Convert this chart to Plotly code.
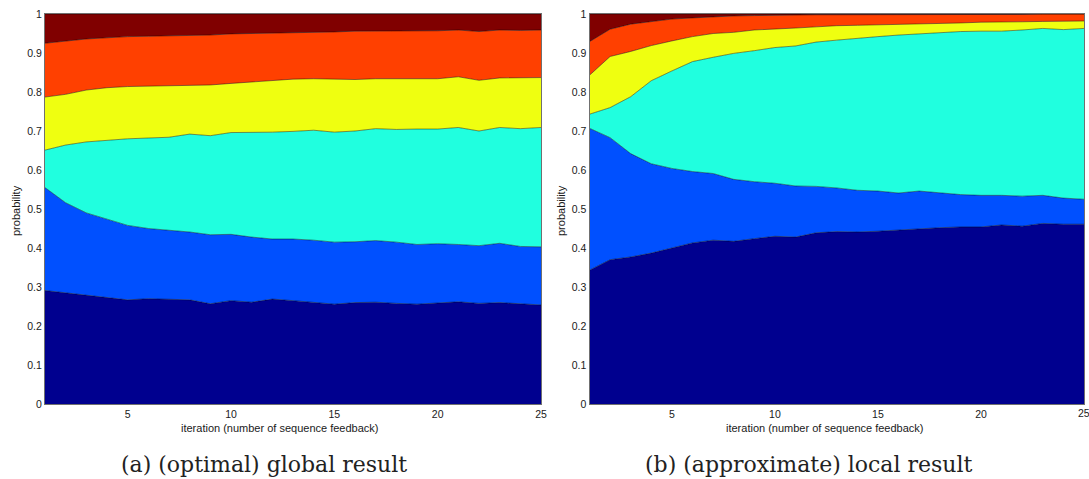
import plotly.graph_objects as go

iterations = list(range(1, 26))

# Left panel (a): cumulative boundaries (top of each stacked layer)
a_layer1 = [0.291, 0.285, 0.278, 0.272, 0.267, 0.270, 0.269, 0.267, 0.257, 0.265, 0.261, 0.269, 0.265,
            0.260, 0.256, 0.260, 0.261, 0.258, 0.256, 0.259, 0.262, 0.258, 0.260, 0.257, 0.254]
a_layer2 = [0.555, 0.516, 0.490, 0.473, 0.458, 0.450, 0.446, 0.441, 0.434, 0.435, 0.428, 0.423, 0.423,
            0.420, 0.415, 0.416, 0.419, 0.415, 0.409, 0.411, 0.409, 0.406, 0.412, 0.404, 0.403]
a_layer3 = [0.651, 0.664, 0.672, 0.676, 0.680, 0.682, 0.684, 0.692, 0.688, 0.696, 0.696, 0.697, 0.699,
            0.702, 0.697, 0.700, 0.706, 0.704, 0.705, 0.705, 0.709, 0.700, 0.709, 0.706, 0.709]
a_layer4 = [0.787, 0.794, 0.805, 0.811, 0.814, 0.815, 0.817, 0.818, 0.818, 0.822, 0.826, 0.830, 0.833,
            0.834, 0.833, 0.832, 0.834, 0.834, 0.834, 0.834, 0.839, 0.830, 0.836, 0.836, 0.837]
a_layer5 = [0.925, 0.930, 0.936, 0.939, 0.942, 0.943, 0.944, 0.945, 0.946, 0.949, 0.950, 0.950, 0.952,
            0.953, 0.954, 0.956, 0.956, 0.956, 0.956, 0.957, 0.959, 0.955, 0.959, 0.958, 0.959]
a_layer6 = [1.0] * 25

# Right panel (b): cumulative boundaries
b_layer1 = [0.343, 0.370, 0.377, 0.387, 0.400, 0.413, 0.420, 0.417, 0.424, 0.430, 0.428, 0.439, 0.442,
            0.441, 0.443, 0.446, 0.450, 0.452, 0.454, 0.454, 0.459, 0.456, 0.463, 0.461, 0.461]
b_layer2 = [0.707, 0.683, 0.642, 0.616, 0.604, 0.596, 0.591, 0.576, 0.570, 0.566, 0.559, 0.558, 0.554,
            0.548, 0.546, 0.541, 0.546, 0.541, 0.537, 0.535, 0.535, 0.533, 0.535, 0.528, 0.525]
b_layer3 = [0.743, 0.760, 0.788, 0.829, 0.854, 0.878, 0.889, 0.899, 0.906, 0.914, 0.918, 0.928, 0.933,
            0.938, 0.942, 0.946, 0.949, 0.951, 0.955, 0.956, 0.956, 0.959, 0.963, 0.960, 0.963]
b_layer4 = [0.843, 0.891, 0.904, 0.919, 0.931, 0.942, 0.950, 0.953, 0.959, 0.961, 0.964, 0.967, 0.970,
            0.971, 0.972, 0.974, 0.975, 0.976, 0.977, 0.979, 0.979, 0.980, 0.981, 0.981, 0.982]
b_layer5 = [0.929, 0.961, 0.974, 0.980, 0.987, 0.990, 0.993, 0.995, 0.996, 0.997, 0.997, 0.998, 0.998,
            0.998, 0.998, 0.999, 0.999, 0.999, 0.999, 0.999, 0.999, 0.999, 1.0, 1.0, 1.0]
b_layer6 = [1.0] * 25

colors = ["#00008F", "#0050FF", "#20FFDF", "#EFFF10", "#FF4000", "#800000"]

x_ticks = [5, 10, 15, 20, 25]
y_ticks = [0, 0.1, 0.2, 0.3, 0.4, 0.5, 0.6, 0.7, 0.8, 0.9, 1]
y_ticktext = ["0", "0.1", "0.2", "0.3", "0.4", "0.5", "0.6", "0.7", "0.8", "0.9", "1"]

x_title = "iteration (number of sequence feedback)"
y_title = "probability"
captions = ["(a) (optimal) global result", "(b) (approximate) local result"]

fig = go.Figure()

panels = [
    ([a_layer1, a_layer2, a_layer3, a_layer4, a_layer5, a_layer6], "x", "y"),
    ([b_layer1, b_layer2, b_layer3, b_layer4, b_layer5, b_layer6], "x2", "y2"),
]
for layers, xa, ya in panels:
    for i, (vals, col) in enumerate(zip(layers, colors)):
        fig.add_trace(go.Scatter(
            x=iterations, y=vals, mode="lines",
            line=dict(color="rgba(0,0,0,0.75)", width=0.6),
            fill="tozeroy" if i == 0 else "tonexty",
            fillcolor=col, xaxis=xa, yaxis=ya, showlegend=False,
            hoverinfo="skip",
        ))

W, H = 1089, 479
def px_x(p):
    return p / W
def px_y(p):
    return 1 - p / H

tick_font = dict(family="Liberation Sans, Arial, sans-serif", size=10.5, color="#1a1a1a")
label_font = dict(family="Liberation Sans, Arial, sans-serif", size=11, color="#1a1a1a")
xcommon = dict(range=[1, 25], tickvals=x_ticks, ticks="", showgrid=False, zeroline=False,
               showline=True, mirror=True, linecolor="#707070", linewidth=1,
               tickfont=tick_font, fixedrange=True, automargin=False)
ycommon = dict(range=[0, 1], tickvals=y_ticks, ticktext=y_ticktext, ticks="", showgrid=False,
               zeroline=False, showline=True, mirror=True, linecolor="#707070", linewidth=1,
               tickfont=tick_font, fixedrange=True, automargin=False,
               domain=[px_y(404), px_y(14)])

fig.update_layout(
    width=W, height=H,
    margin=dict(l=0, r=0, t=0, b=0, pad=0),
    paper_bgcolor="white", plot_bgcolor="white",
    xaxis=dict(domain=[px_x(45), px_x(541)], anchor="y", **xcommon),
    yaxis=dict(anchor="x", **ycommon),
    xaxis2=dict(domain=[px_x(589.5), px_x(1084)], anchor="y2", **xcommon),
    yaxis2=dict(anchor="x2", **ycommon),
)

annotations = []
for cx_title, ylab_x in [(280, 16), (825, 561)]:
    annotations.append(dict(text=x_title, x=px_x(cx_title), y=px_y(428), xref="paper", yref="paper",
                            showarrow=False, xanchor="center", yanchor="middle", font=label_font))
    annotations.append(dict(text=y_title, x=px_x(ylab_x), y=px_y(211), xref="paper", yref="paper",
                            showarrow=False, xanchor="center", yanchor="middle", textangle=-90,
                            font=label_font))
# last tick label of the right panel runs past the page edge; plotly hides it, so draw it as text
annotations.append(dict(text=str(x_ticks[-1]), x=x_ticks[-1], xref="x2", y=px_y(413), yref="paper",
                        showarrow=False, xanchor="center", yanchor="middle", font=tick_font))
for cx, txt in [(264, captions[0]), (809, captions[1])]:
    annotations.append(dict(text=txt, x=px_x(cx), y=px_y(464), xref="paper", yref="paper",
                            showarrow=False, xanchor="center", yanchor="middle",
                            font=dict(family="DejaVu Serif, Liberation Serif, serif", size=22,
                                      color="#222222")))
fig.update_layout(annotations=annotations)

fig.write_html("out.html")
